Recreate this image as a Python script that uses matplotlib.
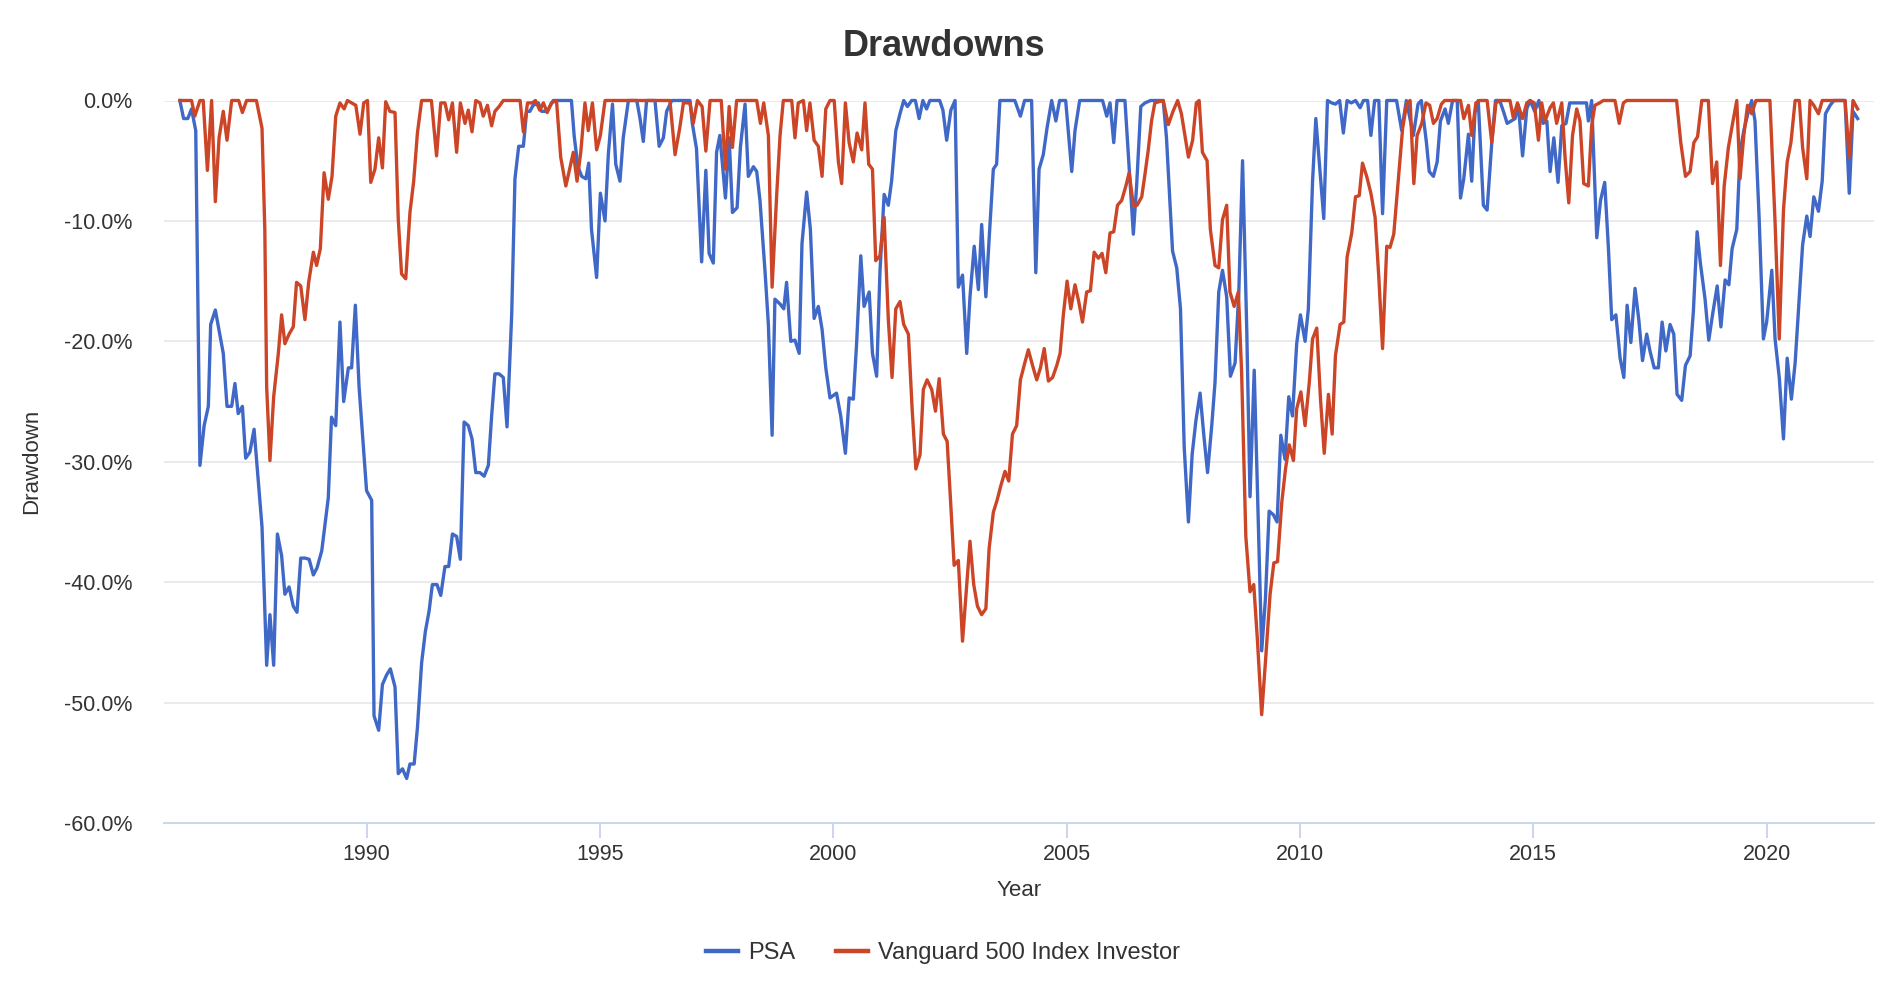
import matplotlib
matplotlib.use("Agg")
import matplotlib.pyplot as plt
from matplotlib.ticker import FuncFormatter

# drawdown vertices (decimal year, percent)
psa_years = [
    1986.00, 1986.08, 1986.17, 1986.25, 1986.34, 1986.43, 1986.52, 1986.61, 1986.66, 1986.76,
    1986.93, 1987.01, 1987.11, 1987.18, 1987.25, 1987.34, 1987.41, 1987.50, 1987.59, 1987.76,
    1987.86, 1987.93, 1988.01, 1988.09, 1988.18, 1988.25, 1988.34, 1988.43, 1988.51, 1988.59,
    1988.68, 1988.77, 1988.86, 1988.94, 1989.04, 1989.18, 1989.25, 1989.34, 1989.43, 1989.51,
    1989.61, 1989.68, 1989.76, 1989.84, 1990.00, 1990.11, 1990.16, 1990.26, 1990.34, 1990.43,
    1990.51, 1990.61, 1990.68, 1990.77, 1990.86, 1990.93, 1991.02, 1991.09, 1991.18, 1991.26,
    1991.34, 1991.41, 1991.51, 1991.59, 1991.68, 1991.76, 1991.84, 1991.93, 1992.01, 1992.09,
    1992.18, 1992.26, 1992.34, 1992.43, 1992.52, 1992.61, 1992.68, 1992.75, 1992.84, 1992.93,
    1993.01, 1993.11, 1993.18, 1993.26, 1993.36, 1993.43, 1993.50, 1993.57, 1993.68, 1993.75,
    1993.87, 1994.00, 1994.39, 1994.45, 1994.53, 1994.61, 1994.70, 1994.76, 1994.82, 1994.93,
    1995.01, 1995.11, 1995.18, 1995.27, 1995.34, 1995.43, 1995.50, 1995.61, 1995.79, 1995.86,
    1995.93, 1996.00, 1996.18, 1996.27, 1996.36, 1996.43, 1996.54, 1996.93, 1996.98, 1997.07,
    1997.18, 1997.27, 1997.34, 1997.43, 1997.50, 1997.57, 1997.69, 1997.77, 1997.84, 1997.94,
    1998.01, 1998.11, 1998.18, 1998.29, 1998.36, 1998.43, 1998.54, 1998.61, 1998.69, 1998.75,
    1998.86, 1998.94, 1999.00, 1999.09, 1999.18, 1999.27, 1999.33, 1999.43, 1999.51, 1999.59,
    1999.68, 1999.76, 1999.84, 1999.93, 2000.07, 2000.16, 2000.26, 2000.34, 2000.43, 2000.50,
    2000.59, 2000.66, 2000.77, 2000.84, 2000.93, 2001.00, 2001.09, 2001.18, 2001.25, 2001.34,
    2001.43, 2001.51, 2001.59, 2001.68, 2001.76, 2001.84, 2001.92, 2002.00, 2002.07, 2002.28,
    2002.35, 2002.43, 2002.52, 2002.61, 2002.68, 2002.77, 2002.86, 2002.93, 2003.02, 2003.11,
    2003.18, 2003.27, 2003.34, 2003.43, 2003.50, 2003.57, 2003.89, 2004.01, 2004.10, 2004.25,
    2004.34, 2004.41, 2004.50, 2004.58, 2004.68, 2004.77, 2004.85, 2004.98, 2005.11, 2005.18,
    2005.28, 2005.77, 2005.86, 2005.93, 2006.01, 2006.08, 2006.25, 2006.43, 2006.50, 2006.59,
    2006.68, 2006.80, 2007.07, 2007.14, 2007.27, 2007.36, 2007.44, 2007.52, 2007.61, 2007.69,
    2007.77, 2007.86, 2007.94, 2008.02, 2008.11, 2008.18, 2008.26, 2008.34, 2008.43, 2008.51,
    2008.61, 2008.69, 2008.77, 2008.86, 2008.93, 2009.02, 2009.08, 2009.18, 2009.26, 2009.34,
    2009.43, 2009.51, 2009.59, 2009.68, 2009.76, 2009.84, 2009.93, 2010.01, 2010.11, 2010.18,
    2010.27, 2010.34, 2010.43, 2010.51, 2010.59, 2010.68, 2010.76, 2010.85, 2010.93, 2011.01,
    2011.10, 2011.19, 2011.29, 2011.36, 2011.45, 2011.52, 2011.60, 2011.69, 2011.77, 2011.86,
    2012.07, 2012.18, 2012.28, 2012.43, 2012.53, 2012.60, 2012.71, 2012.77, 2012.86, 2012.94,
    2013.01, 2013.11, 2013.18, 2013.27, 2013.37, 2013.44, 2013.51, 2013.61, 2013.68, 2013.75,
    2013.82, 2013.93, 2014.01, 2014.11, 2014.19, 2014.28, 2014.36, 2014.44, 2014.61, 2014.68,
    2014.77, 2014.86, 2014.93, 2015.03, 2015.12, 2015.21, 2015.29, 2015.36, 2015.44, 2015.53,
    2015.61, 2015.70, 2015.78, 2016.14, 2016.18, 2016.25, 2016.36, 2016.44, 2016.53, 2016.61,
    2016.68, 2016.77, 2016.86, 2016.94, 2017.01, 2017.09, 2017.18, 2017.26, 2017.34, 2017.43,
    2017.50, 2017.59, 2017.68, 2017.76, 2017.84, 2017.93, 2018.01, 2018.08, 2018.18, 2018.26,
    2018.36, 2018.43, 2018.51, 2018.58, 2018.68, 2018.76, 2018.84, 2018.94, 2019.02, 2019.11,
    2019.19, 2019.26, 2019.36, 2019.43, 2019.51, 2019.61, 2019.68, 2019.75, 2019.84, 2019.93,
    2020.00, 2020.11, 2020.18, 2020.27, 2020.36, 2020.44, 2020.53, 2020.61, 2020.68, 2020.77,
    2020.86, 2020.93, 2021.01, 2021.11, 2021.19, 2021.26, 2021.36, 2021.44, 2021.68, 2021.77,
    2021.85, 2021.95,
]
psa_dd = [
    0, -1.5, -1.5, -0.7, -2.5, -30.3, -27, -25.4, -18.6, -17.4,
    -21, -25.4, -25.4, -23.5, -26, -25.4, -29.7, -29.2, -27.3, -35.4,
    -46.9, -42.7, -46.9, -36, -37.8, -41, -40.4, -42, -42.5, -38,
    -38, -38.1, -39.4, -38.8, -37.4, -33, -26.3, -27, -18.4, -25,
    -22.2, -22.2, -17, -23.8, -32.4, -33.2, -51.1, -52.3, -48.5, -47.7,
    -47.2, -48.7, -55.9, -55.5, -56.3, -55.1, -55.1, -52.1, -46.7, -44.1,
    -42.4, -40.2, -40.2, -41.1, -38.7, -38.7, -36, -36.2, -38.1, -26.7,
    -27, -28.1, -30.9, -30.9, -31.2, -30.3, -26.2, -22.7, -22.7, -23,
    -27.1, -17.8, -6.5, -3.8, -3.8, -0.9, -0.9, -0.4, -0.2, -0.9,
    -0.9, 0, 0, -3.0, -5.5, -6.3, -6.5, -5.2, -10.7, -14.7,
    -7.7, -10, -4.5, -0.3, -5.3, -6.7, -3.1, 0, 0, -1.5,
    -3.4, 0, 0, -3.8, -3.1, -0.9, 0, 0, -1.9, -4.0,
    -13.4, -5.8, -12.7, -13.5, -4.3, -2.9, -8.1, -3.1, -9.3, -8.9,
    -3.9, -0.3, -6.3, -5.5, -5.9, -8.3, -14.3, -18.6, -27.8, -16.5,
    -16.9, -17.3, -15.1, -20, -19.9, -21, -11.9, -7.6, -10.7, -18.1,
    -17.1, -19, -22.2, -24.7, -24.3, -26.2, -29.3, -24.7, -24.8, -20.2,
    -12.9, -17.1, -15.9, -21, -22.9, -14.3, -7.8, -8.7, -6.7, -2.5,
    -1.1, 0, -0.5, 0, 0, -1.5, 0, -0.7, 0, 0,
    -0.8, -3.3, -0.8, 0, -15.5, -14.5, -21, -16.3, -12.1, -15.7,
    -10.3, -16.3, -11.5, -5.7, -5.3, 0, 0, -1.3, 0, 0,
    -14.3, -5.7, -4.5, -2.3, 0, -1.7, 0, 0, -5.9, -2.5,
    0, 0, -1.3, -0.2, -3.5, 0, 0, -11.1, -7.1, -0.5,
    -0.2, 0, 0, -3.1, -12.5, -13.9, -17.3, -28.8, -35, -29.4,
    -26.6, -24.3, -27.8, -30.9, -27, -23.4, -15.9, -14.1, -16.3, -22.9,
    -21.8, -15.9, -5, -19, -32.9, -22.4, -31, -45.7, -41.4, -34.1,
    -34.4, -35, -27.8, -29.8, -24.6, -26.2, -20.2, -17.8, -20, -17.3,
    -6.7, -1.5, -5.9, -9.8, 0, -0.2, -0.3, 0, -2.7, 0,
    -0.2, 0, -0.6, 0, 0, -2.9, 0, 0, -9.4, 0,
    0, -2.5, 0, -2.9, -0.3, 0, -3.5, -5.9, -6.3, -5.1,
    -1.7, -0.7, -1.9, 0, 0, -8.1, -6.5, -2.8, -6.7, -1,
    0, -8.7, -9.1, -3.5, 0, 0, -0.9, -1.9, -1.5, -0.4,
    -4.6, -0.7, 0, -0.9, 0, -1.9, -1.7, -5.9, -3.1, -6.8,
    -2.1, -1.9, -0.2, -0.2, -1.7, 0, -11.4, -8.3, -6.8, -12.3,
    -18.2, -17.8, -21.4, -23, -17, -20.1, -15.6, -18.2, -21.6, -19.4,
    -20.8, -22.2, -22.2, -18.4, -20.8, -18.6, -19.4, -24.4, -24.9, -22,
    -21.2, -17.5, -10.9, -13.5, -16.5, -19.9, -17.8, -15.4, -18.8, -14.9,
    -15.3, -12.3, -10.7, -4.3, -2.5, -0.9, 0, -1.7, -9.9, -19.8,
    -18.4, -14.1, -19.8, -23, -28.1, -21.4, -24.8, -21.8, -17.5, -12,
    -9.6, -11.3, -8, -9.2, -6.7, -1.1, -0.4, 0, 0, -7.7,
    -0.9, -1.5,
]

vfinx_years = [
    1986.00, 1986.25, 1986.32, 1986.43, 1986.50, 1986.59, 1986.68, 1986.76, 1986.84, 1986.93,
    1987.01, 1987.11, 1987.26, 1987.34, 1987.43, 1987.64, 1987.76, 1987.82, 1987.86, 1987.93,
    1988.01, 1988.11, 1988.18, 1988.25, 1988.34, 1988.43, 1988.50, 1988.59, 1988.68, 1988.76,
    1988.86, 1988.93, 1989.01, 1989.09, 1989.18, 1989.26, 1989.34, 1989.43, 1989.52, 1989.59,
    1989.77, 1989.86, 1989.94, 1990.02, 1990.09, 1990.18, 1990.26, 1990.34, 1990.41, 1990.50,
    1990.61, 1990.68, 1990.75, 1990.84, 1990.93, 1991.01, 1991.09, 1991.18, 1991.39, 1991.50,
    1991.59, 1991.68, 1991.76, 1991.84, 1991.93, 1992.01, 1992.11, 1992.18, 1992.26, 1992.34,
    1992.43, 1992.50, 1992.59, 1992.68, 1992.75, 1992.84, 1992.93, 1993.29, 1993.36, 1993.45,
    1993.55, 1993.62, 1993.71, 1993.79, 1993.87, 1993.96, 1994.07, 1994.16, 1994.27, 1994.34,
    1994.43, 1994.51, 1994.59, 1994.68, 1994.75, 1994.84, 1994.93, 1995.01, 1995.11, 1996.50,
    1996.61, 1996.71, 1996.79, 1996.93, 1997.00, 1997.09, 1997.19, 1997.27, 1997.36, 1997.60,
    1997.69, 1997.77, 1997.84, 1997.93, 1998.36, 1998.44, 1998.51, 1998.61, 1998.69, 1998.79,
    1998.86, 1998.93, 1999.11, 1999.18, 1999.25, 1999.36, 1999.43, 1999.50, 1999.59, 1999.68,
    1999.76, 1999.84, 1999.93, 2000.02, 2000.11, 2000.18, 2000.26, 2000.34, 2000.43, 2000.51,
    2000.61, 2000.68, 2000.76, 2000.84, 2000.91, 2001.00, 2001.09, 2001.18, 2001.26, 2001.34,
    2001.43, 2001.51, 2001.61, 2001.69, 2001.77, 2001.86, 2001.93, 2002.01, 2002.11, 2002.19,
    2002.27, 2002.36, 2002.44, 2002.51, 2002.59, 2002.68, 2002.77, 2002.86, 2002.93, 2003.01,
    2003.09, 2003.18, 2003.27, 2003.34, 2003.43, 2003.51, 2003.59, 2003.68, 2003.76, 2003.84,
    2003.93, 2004.01, 2004.09, 2004.18, 2004.27, 2004.36, 2004.44, 2004.52, 2004.61, 2004.70,
    2004.79, 2004.86, 2004.93, 2005.01, 2005.09, 2005.18, 2005.26, 2005.34, 2005.43, 2005.51,
    2005.59, 2005.68, 2005.76, 2005.84, 2005.93, 2006.01, 2006.09, 2006.18, 2006.27, 2006.34,
    2006.43, 2006.51, 2006.61, 2006.68, 2006.75, 2006.82, 2006.89, 2007.07, 2007.18, 2007.28,
    2007.38, 2007.46, 2007.61, 2007.70, 2007.78, 2007.84, 2007.91, 2008.01, 2008.08, 2008.18,
    2008.26, 2008.34, 2008.43, 2008.50, 2008.59, 2008.68, 2008.75, 2008.84, 2008.93, 2009.01,
    2009.09, 2009.18, 2009.27, 2009.36, 2009.44, 2009.52, 2009.61, 2009.69, 2009.77, 2009.86,
    2009.93, 2010.02, 2010.11, 2010.20, 2010.27, 2010.36, 2010.44, 2010.52, 2010.61, 2010.69,
    2010.76, 2010.86, 2010.94, 2011.01, 2011.11, 2011.19, 2011.27, 2011.34, 2011.43, 2011.52,
    2011.61, 2011.69, 2011.77, 2011.86, 2011.93, 2012.01, 2012.11, 2012.20, 2012.29, 2012.36,
    2012.44, 2012.51, 2012.61, 2012.70, 2012.78, 2012.86, 2012.94, 2013.03, 2013.10, 2013.44,
    2013.51, 2013.61, 2013.68, 2013.77, 2013.85, 2014.01, 2014.11, 2014.20, 2014.28, 2014.50,
    2014.57, 2014.66, 2014.77, 2014.86, 2014.93, 2015.02, 2015.11, 2015.18, 2015.25, 2015.36,
    2015.43, 2015.50, 2015.61, 2015.68, 2015.76, 2015.84, 2015.93, 2016.00, 2016.08, 2016.18,
    2016.25, 2016.32, 2016.42, 2016.50, 2016.75, 2016.84, 2016.93, 2017.00, 2018.07, 2018.16,
    2018.26, 2018.36, 2018.44, 2018.52, 2018.61, 2018.75, 2018.84, 2018.93, 2019.01, 2019.09,
    2019.18, 2019.27, 2019.36, 2019.43, 2019.51, 2019.59, 2019.68, 2019.77, 2020.07, 2020.18,
    2020.27, 2020.36, 2020.44, 2020.52, 2020.61, 2020.70, 2020.77, 2020.86, 2020.93, 2021.01,
    2021.11, 2021.19, 2021.68, 2021.77, 2021.85, 2021.95,
]
vfinx_dd = [
    0, 0, -1.3, 0, 0, -5.8, 0, -8.4, -3.1, -0.9,
    -3.3, 0, 0, -1, 0, 0, -2.3, -10.7, -23.8, -29.9,
    -24.6, -21, -17.8, -20.2, -19.4, -18.8, -15.1, -15.4, -18.2, -15.1,
    -12.6, -13.7, -12.3, -6, -8.2, -6.3, -1.3, -0.2, -0.7, 0,
    -0.4, -2.8, -0.2, 0, -6.8, -5.7, -3.1, -5.6, -0.1, -0.9,
    -1, -9.9, -14.4, -14.8, -9.3, -6.7, -2.7, 0, 0, -4.6,
    -0.2, -0.2, -1.6, -0.2, -4.3, -0.2, -1.9, -0.8, -2.6, 0,
    -0.2, -1.3, -0.4, -2.1, -0.9, -0.5, 0, 0, -2.6, -0.2,
    -0.2, 0, -0.8, -0.2, -1, -0.2, 0, -4.7, -7.1, -5.9,
    -4.3, -6.7, -4.3, -0.2, -2.5, -0.2, -4.1, -2.9, 0, 0,
    -4.5, -2.3, -0.2, -0.2, -1.9, 0, -0.5, -4.2, 0, 0,
    -5.7, -0.5, -3.9, 0, 0, -1.9, -0.2, -2.9, -15.5, -7.7,
    -2.9, 0, 0, -3.1, -0.2, 0, -2.5, -0.2, -3.3, -3.8,
    -6.3, -0.7, 0, 0, -5.1, -6.9, -0.2, -3.5, -5.1, -2.7,
    -4.1, -0.2, -5.3, -5.7, -13.3, -12.9, -9.7, -18.2, -23, -17.3,
    -16.7, -18.6, -19.4, -25.6, -30.6, -29.4, -24, -23.2, -24, -25.8,
    -23.1, -27.7, -28.3, -33, -38.6, -38.2, -44.9, -40.2, -36.6, -40.2,
    -42, -42.7, -42.2, -37.2, -34.2, -33.2, -32, -30.8, -31.6, -27.7,
    -27, -23.2, -22, -20.7, -22, -23.2, -22.2, -20.6, -23.3, -23,
    -22, -21, -17.8, -15, -17.3, -15.3, -16.7, -18.4, -15.9, -15.8,
    -12.6, -13.1, -12.7, -14.3, -11, -10.9, -8.7, -8.3, -7.1, -6,
    -8.7, -8.7, -8, -6.1, -4.1, -1.7, -0.2, 0, -2, -0.9,
    0, -1.1, -4.7, -3.3, -0.2, 0, -4.3, -5, -10.7, -13.7,
    -13.9, -9.9, -8.7, -15.9, -17.1, -15.9, -22.6, -36.2, -40.8, -40.2,
    -44.9, -51, -46.1, -41, -38.4, -38.3, -33.4, -30.6, -28.6, -29.9,
    -25.6, -24.2, -27, -23.4, -19.8, -18.9, -24.8, -29.3, -24.4, -27.7,
    -21.2, -18.6, -18.4, -13, -11, -8, -7.9, -5.2, -6.3, -7.7,
    -9.7, -14.7, -20.6, -12.1, -12.2, -11.1, -6.5, -2.3, -0.2, 0,
    -6.9, -2.9, -1.9, -0.2, -0.4, -1.9, -1.5, -0.3, 0, 0,
    -1.5, -0.4, -2.9, -0.2, 0, 0, -3.5, -0.2, 0, 0,
    -1.4, -0.2, -1.5, -0.2, 0, -0.2, -3.3, -0.2, -1.7, -0.6,
    -0.2, -1.9, -0.2, -4.7, -8.5, -2.9, -0.7, -1.7, -6.9, -7.1,
    -2.1, -0.4, -0.2, 0, 0, -1.9, -0.2, 0, 0, -3.5,
    -6.3, -5.9, -3.5, -3, 0, 0, -6.9, -5.1, -13.7, -7.1,
    -3.9, -1.9, 0, -6.5, -2.9, -0.4, -1.1, 0, 0, -10.1,
    -19.8, -9.1, -5.1, -3.5, 0, 0, -3.9, -6.5, 0, -0.4,
    -1.1, 0, 0, -4.7, 0, -0.7,
]

series_names = ["PSA", "Vanguard 500 Index Investor"]
series_colors = ["#3f68c7", "#cc4527"]
year_ticks = [1990, 1995, 2000, 2005, 2010, 2015, 2020]
pct_ticks = [0, -10, -20, -30, -40, -50, -60]

plt.rcParams["font.family"] = ["Liberation Sans", "DejaVu Sans"]
text_color = "#333333"

fig = plt.figure(figsize=(18.92, 10.02), dpi=100)
ax = fig.add_axes([164 / 1892, 1 - 823 / 1002, (1874 - 164) / 1892, (823 - 100.5) / 1002])

ax.plot(psa_years, psa_dd, color=series_colors[0], lw=2.4, label=series_names[0],
        clip_on=False, zorder=3, solid_joinstyle="round")
ax.plot(vfinx_years, vfinx_dd, color=series_colors[1], lw=2.4, label=series_names[1],
        clip_on=False, zorder=3, solid_joinstyle="round")

ax.set_xlim(1985.66, 2022.30)
ax.set_ylim(-60, 0)
ax.set_xticks(year_ticks)
ax.set_xticklabels([str(y) for y in year_ticks])
ax.set_yticks(pct_ticks)
ax.yaxis.set_major_formatter(FuncFormatter(lambda v, p: f"{v:.1f}%"))

ax.grid(axis="y", color="#e6e6e6", lw=1.1)
ax.set_axisbelow(True)
for side in ["top", "right", "left"]:
    ax.spines[side].set_visible(False)
ax.spines["bottom"].set_color("#ccd6eb")
ax.spines["bottom"].set_linewidth(1.4)
ax.spines["bottom"].set_zorder(1)

ax.tick_params(axis="x", colors="#ccd6eb", length=11, width=1.4, pad=4,
               labelsize=15.5, labelcolor=text_color)
ax.tick_params(axis="y", length=0, pad=23, labelsize=15.5, labelcolor=text_color)

ax.set_xlabel("Year", fontsize=16, color=text_color, va="center")
ax.xaxis.set_label_coords(0.5, -0.093)
ax.set_ylabel("Drawdown", fontsize=16, color=text_color, va="center")
ax.yaxis.set_label_coords(-0.0772, 0.5)

fig.text(944 / 1892, 1 - 47 / 1002, "Drawdowns", ha="center", va="center",
         fontsize=26, fontweight="bold", color=text_color)

leg = fig.legend(loc="center", bbox_to_anchor=(943 / 1892, 1 - 953 / 1002), ncol=2,
                 frameon=False, fontsize=17, handlelength=1.35, handletextpad=0.45,
                 columnspacing=1.7)
for t in leg.get_texts():
    t.set_color(text_color)
for h in leg.get_lines():
    h.set_linewidth(3.2)

fig.savefig("out.png", dpi=100)
